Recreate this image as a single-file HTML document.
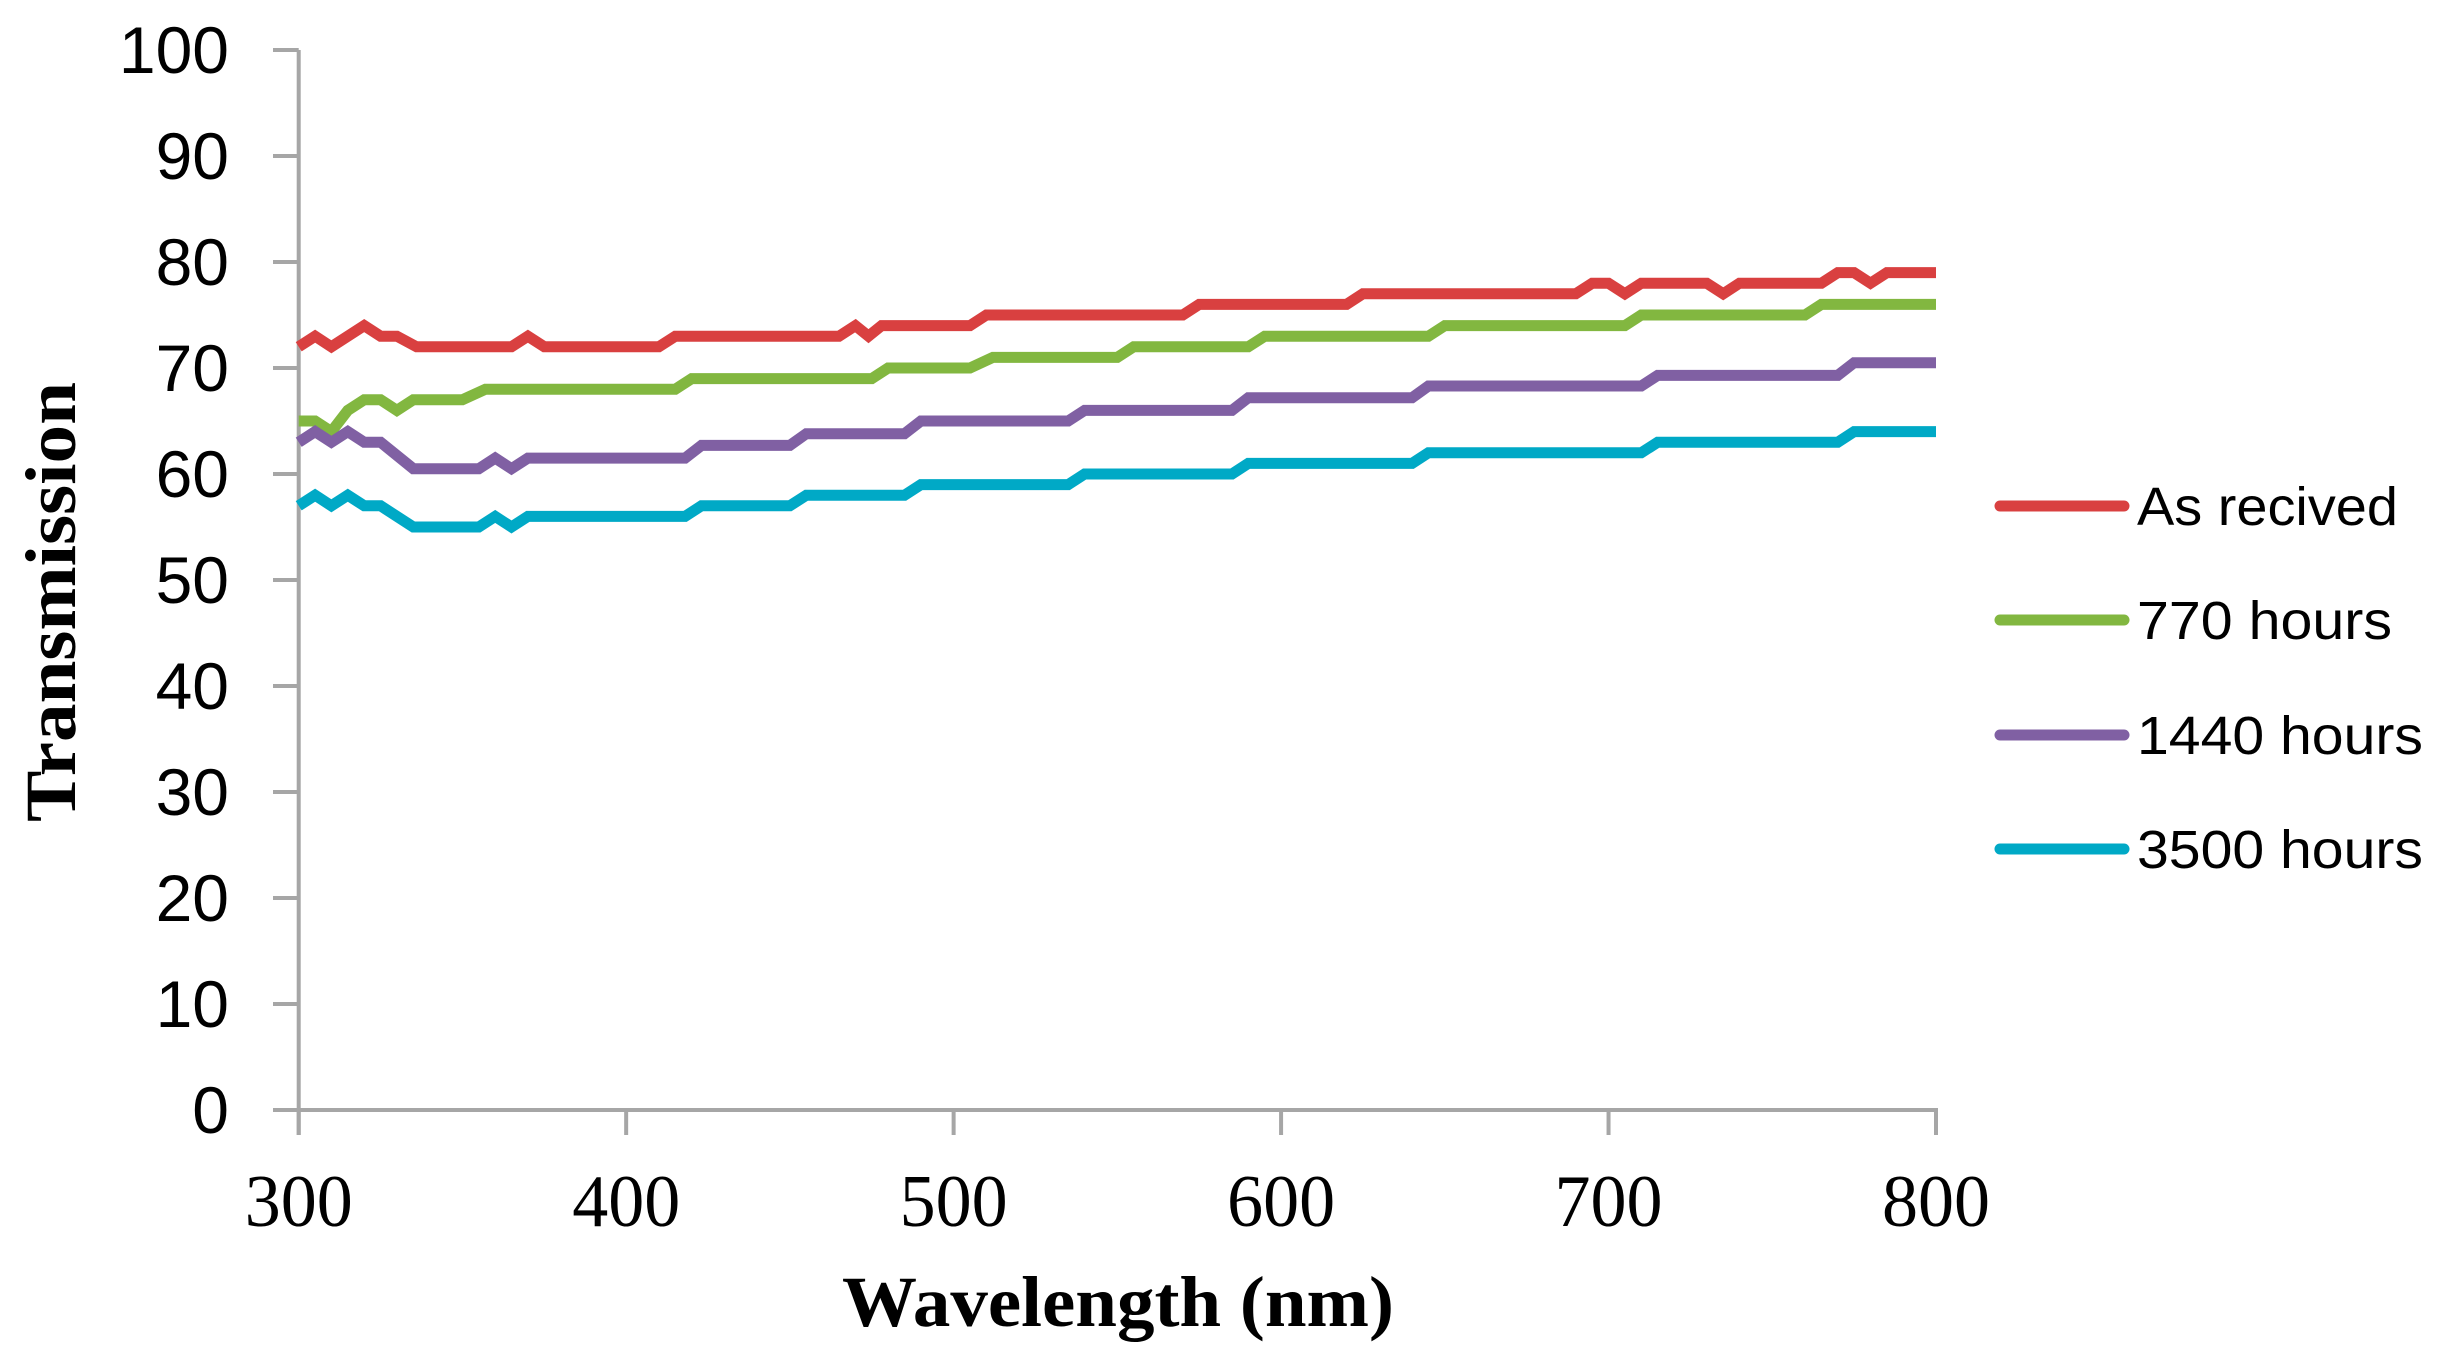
<!DOCTYPE html>
<html><head><meta charset="utf-8"><style>
html,body{margin:0;padding:0;background:#fff;}
svg{display:block;}
</style></head><body>
<svg id="c" width="2452" height="1359" viewBox="0 0 2452 1359" xmlns="http://www.w3.org/2000/svg">
<rect width="2452" height="1359" fill="#fff"/>
<g stroke="#a6a6a6" stroke-width="4" fill="none">
<line x1="298.7" y1="50" x2="298.7" y2="1135"/>
<line x1="296" y1="1110" x2="1938" y2="1110"/>
<g id="yt"></g><g id="xt"></g>
</g>
<g font-family="Liberation Sans, sans-serif" font-size="66" fill="#000" text-anchor="end">
<text x="229" y="73">100</text>
<text x="229" y="179">90</text>
<text x="229" y="285">80</text>
<text x="229" y="391">70</text>
<text x="229" y="497">60</text>
<text x="229" y="603">50</text>
<text x="229" y="709">40</text>
<text x="229" y="815">30</text>
<text x="229" y="921">20</text>
<text x="229" y="1027">10</text>
<text x="229" y="1133">0</text>
</g>
<g font-family="Liberation Serif, serif" font-size="74" fill="#000" text-anchor="middle">
<text x="298.7" y="1226" textLength="108" lengthAdjust="spacingAndGlyphs">300</text>
<text x="626.2" y="1226" textLength="108" lengthAdjust="spacingAndGlyphs">400</text>
<text x="953.6" y="1226" textLength="108" lengthAdjust="spacingAndGlyphs">500</text>
<text x="1281.1" y="1226" textLength="108" lengthAdjust="spacingAndGlyphs">600</text>
<text x="1608.5" y="1226" textLength="108" lengthAdjust="spacingAndGlyphs">700</text>
<text x="1936" y="1226" textLength="108" lengthAdjust="spacingAndGlyphs">800</text>
</g>
<text x="842" y="1326" font-family="Liberation Serif, serif" font-weight="bold" font-size="72" textLength="552" lengthAdjust="spacingAndGlyphs">Wavelength (nm)</text>
<text transform="translate(75,822) rotate(-90)" font-family="Liberation Serif, serif" font-weight="bold" font-size="72" textLength="440" lengthAdjust="spacingAndGlyphs">Transmission</text>
<g id="series" fill="none" stroke-width="11" stroke-linejoin="miter" stroke-linecap="butt"></g>
<g stroke-width="11" stroke-linecap="round">
<line x1="2000" y1="506" x2="2124" y2="506" stroke="#d94040"/>
<line x1="2000" y1="620" x2="2124" y2="620" stroke="#82b740"/>
<line x1="2000" y1="735" x2="2124" y2="735" stroke="#8060a3"/>
<line x1="2000" y1="849" x2="2124" y2="849" stroke="#00a9c6"/>
</g>
<g font-family="Liberation Sans, sans-serif" font-size="54" fill="#000">
<text x="2137" y="525" textLength="261" lengthAdjust="spacingAndGlyphs">As recived</text>
<text x="2137" y="639" textLength="255" lengthAdjust="spacingAndGlyphs">770 hours</text>
<text x="2137" y="754" textLength="286" lengthAdjust="spacingAndGlyphs">1440 hours</text>
<text x="2137" y="868" textLength="286" lengthAdjust="spacingAndGlyphs">3500 hours</text>
</g>
</svg>
<script>
var NS="http://www.w3.org/2000/svg";
function X(n){return 298.7+(n-300)*3.2746;}
function Y(v){return 1110-v*10.6;}
var yt=document.getElementById('yt');
for(var i=0;i<=10;i++){var l=document.createElementNS(NS,'line');l.setAttribute('x1',273);l.setAttribute('x2',298.7);l.setAttribute('y1',Y(i*10));l.setAttribute('y2',Y(i*10));yt.appendChild(l);}
var xt=document.getElementById('xt');
for(var i=0;i<=5;i++){var x=X(300+i*100);var l=document.createElementNS(NS,'line');l.setAttribute('x1',x);l.setAttribute('x2',x);l.setAttribute('y1',1110);l.setAttribute('y2',1135);xt.appendChild(l);}
var S=[
["#d94040",[300,72,305,73,310,72,320,74,325,73,330,73,336,72,365,72,370,73,375,72,410,72,415,73,465,73,470,74,474,73,478,74,505,74,510,75,570,75,575,76,620,76,625,77,690,77,695,78,700,78,705,77,710,78,730,78,735,77,740,78,765,78,770,79,775,79,780,78,785,79,800,79]],
["#82b740",[300,65,305,65,310,64,315,66,320,67,325,67,330,66,335,67,350,67,357,68,415,68,420,69,475,69,480,70,505,70,512,71,550,71,555,72,590,72,595,73,645,73,650,74,705,74,710,75,760,75,765,76,800,76]],
["#8060a3",[300,63,305,64,310,63,315,64,320,63,325,63,335,60.5,355,60.5,360,61.5,365,60.5,370,61.5,418,61.5,423,62.7,450,62.7,455,63.8,485,63.8,490,65,535,65,540,66,585,66,590,67.2,640,67.2,645,68.3,710,68.3,715,69.3,770,69.3,775,70.5,800,70.5]],
["#00a9c6",[300,57,305,58,310,57,315,58,320,57,325,57,335,55,355,55,360,56,365,55,370,56,418,56,423,57,450,57,455,58,485,58,490,59,535,59,540,60,585,60,590,61,640,61,645,62,710,62,715,63,770,63,775,64,800,64]]
];
var g=document.getElementById('series');
S.forEach(function(s){var d=s[1],p=[];for(var i=0;i<d.length;i+=2)p.push(X(d[i]).toFixed(1)+","+Y(d[i+1]).toFixed(1));var pl=document.createElementNS(NS,'polyline');pl.setAttribute('points',p.join(' '));pl.setAttribute('stroke',s[0]);g.appendChild(pl);});
</script>
</body></html>
